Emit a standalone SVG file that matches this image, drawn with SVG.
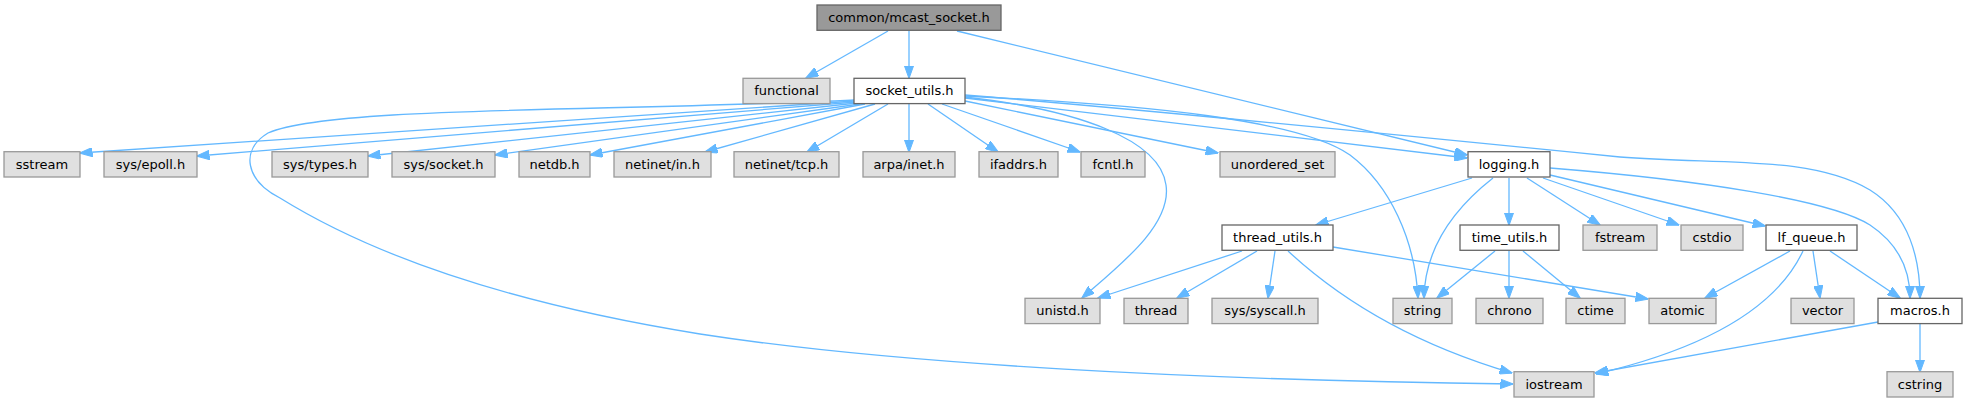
<svg xmlns="http://www.w3.org/2000/svg" width="1967" height="403" viewBox="0 0 1967 403">
<style>
.n rect{stroke-width:1.3}
.g rect{fill:#e0e0e0;stroke:#999999}
.w rect{fill:#ffffff;stroke:#666666}
.r rect{fill:#999999;stroke:#666666}
text{font-family:"DejaVu Sans","Liberation Sans",sans-serif;font-size:13px;fill:#000000;text-anchor:middle}
#edges path{fill:none;stroke:#63b8ff;stroke-width:1.3;marker-end:url(#a)}
</style>
<defs>
<marker id="a" markerUnits="userSpaceOnUse" markerWidth="13" markerHeight="9.4" viewBox="0 0 13 9.4" refX="12.5" refY="4.7" orient="auto">
<path d="M0,0L13,4.7L0,9.4z" fill="#63b8ff" stroke="#63b8ff" stroke-width="1"/>
</marker>
</defs>
<rect width="1967" height="403" fill="#ffffff"/>
<g id="edges">
<path d="M888,31 L806,78"/>
<path d="M909,31 L909,78"/>
<path d="M957,31 L1467,155"/>
<path d="M855,101 L80,153"/>
<path d="M856,102 L197,156"/>
<path d="M857,103 L368,156"/>
<path d="M860,104 L495,155"/>
<path d="M865,104 L590,155"/>
<path d="M875,104 L705,152"/>
<path d="M888,104 L807,152"/>
<path d="M909,104 L909,152"/>
<path d="M928,104 L998,152"/>
<path d="M942,104 L1080,152"/>
<path d="M965,101 L1218,153"/>
<path d="M965,98 L1467,158"/>
<path d="M965,96 C1150,105 1300,120 1350,155 C1390,185 1415,240 1418,298"/>
<path d="M965,97 C1080,110 1160,140 1166,185 C1172,225 1120,265 1082,298"/>
<path d="M855,100 C600,112 330,106 268,133 C240,150 245,180 280,198 C380,260 520,305 700,334 C900,365 1200,380 1513,384"/>
<path d="M965,95 C1150,110 1500,145 1620,157 C1720,165 1810,155 1870,190 C1910,215 1920,260 1920,298"/>
<path d="M1472,178 L1316,225"/>
<path d="M1493,178 C1465,200 1425,240 1424,298"/>
<path d="M1509,178 L1509,225"/>
<path d="M1527,178 L1600,225"/>
<path d="M1543,178 L1679,225"/>
<path d="M1550,175 L1765,226"/>
<path d="M1550,168 C1700,180 1830,200 1870,225 C1900,245 1910,270 1910,298"/>
<path d="M1242,251 L1098,298"/>
<path d="M1257,251 L1177,298"/>
<path d="M1275,251 L1268,298"/>
<path d="M1288,251 C1330,290 1400,340 1512,373"/>
<path d="M1333,247 L1648,299"/>
<path d="M1495,251 L1437,298"/>
<path d="M1509,251 L1509,298"/>
<path d="M1523,251 L1580,298"/>
<path d="M1790,251 L1705,298"/>
<path d="M1803,251 C1780,300 1720,345 1596,374"/>
<path d="M1813,251 L1820,298"/>
<path d="M1830,251 L1900,298"/>
<path d="M1878,322 L1595,373"/>
<path d="M1920,324 L1920,372"/>
</g>
<g id="mcast_socket" class="n r"><rect x="817" y="5" width="184" height="25.3"/><text x="909" y="22">common/mcast_socket.h</text></g>
<g id="functional" class="n g"><rect x="743" y="78.3" width="87" height="25.3"/><text x="786.5" y="95.3">functional</text></g>
<g id="socket_utils" class="n w"><rect x="854" y="78.3" width="111" height="25.3"/><text x="909.5" y="95.3">socket_utils.h</text></g>
<g id="sstream" class="n g"><rect x="4" y="151.7" width="76" height="25.3"/><text x="42" y="168.7">sstream</text></g>
<g id="sys_epoll" class="n g"><rect x="104" y="151.7" width="93" height="25.3"/><text x="150.5" y="168.7">sys/epoll.h</text></g>
<g id="sys_types" class="n g"><rect x="272" y="151.7" width="96" height="25.3"/><text x="320" y="168.7">sys/types.h</text></g>
<g id="sys_socket" class="n g"><rect x="392" y="151.7" width="103" height="25.3"/><text x="443.5" y="168.7">sys/socket.h</text></g>
<g id="netdb" class="n g"><rect x="519" y="151.7" width="71" height="25.3"/><text x="554.5" y="168.7">netdb.h</text></g>
<g id="netinet_in" class="n g"><rect x="614" y="151.7" width="97" height="25.3"/><text x="662.5" y="168.7">netinet/in.h</text></g>
<g id="netinet_tcp" class="n g"><rect x="734" y="151.7" width="105" height="25.3"/><text x="786.5" y="168.7">netinet/tcp.h</text></g>
<g id="arpa_inet" class="n g"><rect x="863" y="151.7" width="92" height="25.3"/><text x="909" y="168.7">arpa/inet.h</text></g>
<g id="ifaddrs" class="n g"><rect x="979" y="151.7" width="79" height="25.3"/><text x="1018.5" y="168.7">ifaddrs.h</text></g>
<g id="fcntl" class="n g"><rect x="1081" y="151.7" width="64" height="25.3"/><text x="1113" y="168.7">fcntl.h</text></g>
<g id="unordered_set" class="n g"><rect x="1220" y="151.7" width="115" height="25.3"/><text x="1277.5" y="168.7">unordered_set</text></g>
<g id="logging" class="n w"><rect x="1468" y="151.7" width="82" height="25.3"/><text x="1509" y="168.7">logging.h</text></g>
<g id="thread_utils" class="n w"><rect x="1222" y="225" width="111" height="25.3"/><text x="1277.5" y="242">thread_utils.h</text></g>
<g id="time_utils" class="n w"><rect x="1460" y="225" width="99" height="25.3"/><text x="1509.5" y="242">time_utils.h</text></g>
<g id="fstream" class="n g"><rect x="1583" y="225" width="74" height="25.3"/><text x="1620" y="242">fstream</text></g>
<g id="cstdio" class="n g"><rect x="1681" y="225" width="62" height="25.3"/><text x="1712" y="242">cstdio</text></g>
<g id="lf_queue" class="n w"><rect x="1766" y="225" width="91" height="25.3"/><text x="1811.5" y="242">lf_queue.h</text></g>
<g id="unistd" class="n g"><rect x="1025" y="298.3" width="75" height="25.3"/><text x="1062.5" y="315.3">unistd.h</text></g>
<g id="thread" class="n g"><rect x="1124" y="298.3" width="64" height="25.3"/><text x="1156" y="315.3">thread</text></g>
<g id="sys_syscall" class="n g"><rect x="1212" y="298.3" width="106" height="25.3"/><text x="1265" y="315.3">sys/syscall.h</text></g>
<g id="string" class="n g"><rect x="1393" y="298.3" width="59" height="25.3"/><text x="1422.5" y="315.3">string</text></g>
<g id="chrono" class="n g"><rect x="1476" y="298.3" width="67" height="25.3"/><text x="1509.5" y="315.3">chrono</text></g>
<g id="ctime" class="n g"><rect x="1566" y="298.3" width="59" height="25.3"/><text x="1595.5" y="315.3">ctime</text></g>
<g id="atomic" class="n g"><rect x="1649" y="298.3" width="67" height="25.3"/><text x="1682.5" y="315.3">atomic</text></g>
<g id="vector" class="n g"><rect x="1791" y="298.3" width="63" height="25.3"/><text x="1822.5" y="315.3">vector</text></g>
<g id="macros" class="n w"><rect x="1878" y="298.3" width="84" height="25.3"/><text x="1920" y="315.3">macros.h</text></g>
<g id="iostream" class="n g"><rect x="1514" y="371.7" width="80" height="25.3"/><text x="1554" y="388.7">iostream</text></g>
<g id="cstring" class="n g"><rect x="1887" y="371.7" width="66" height="25.3"/><text x="1920" y="388.7">cstring</text></g>
</svg>
